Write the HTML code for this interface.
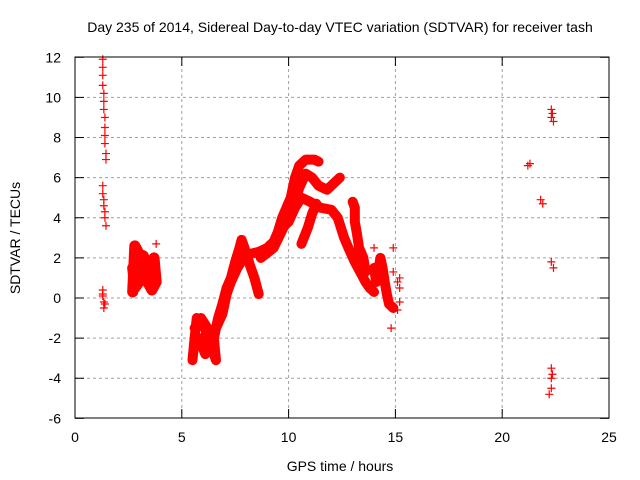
<!DOCTYPE html>
<html><head><meta charset="utf-8"><style>
body{margin:0;background:#fff}
svg{display:block;font-family:"Liberation Sans",sans-serif}
</style></head><body>
<svg id="chart" width="640" height="480" viewBox="0 0 640 480">
<text x="340" y="32" font-size="14" text-anchor="middle">Day 235 of 2014, Sidereal Day-to-day VTEC variation (SDTVAR) for receiver tash</text>
<text x="340" y="471" font-size="14" text-anchor="middle">GPS time / hours</text>
<text x="20" y="238" font-size="14" text-anchor="middle" transform="rotate(-90 20 238)">SDTVAR / TECUs</text>
<g id="grid"></g>
<g id="marks"></g>
<rect x="75" y="57" width="534" height="361" fill="none" stroke="#000" stroke-width="1"/>
<g id="axes"></g>
</svg>
<script>
const xTicks=[0,5,10,15,20,25];
const yTicks=[-6,-4,-2,0,2,4,6,8,10,12];
const trackAx=[5.5,5.6,5.7,6.0,6.2,6.4,6.6,6.5,6.7,6.9,7.1,7.3,7.5,7.7,7.8,8.0,8.2,8.4,8.6];
const trackAy=[-3.1,-2,-1,-1.3,-1.8,-2.5,-3.1,-2,-1,-0.3,0.5,1.0,1.8,2.5,2.9,2.3,1.6,1.0,0.2];
const trackBx=[5.6,5.9,6.2,6.0,5.8,6.1,6.4,6.6,6.9,7.1,7.3,7.6,7.9,8.2,8.6,9.0,9.3,9.5,9.7,9.9,10.1,10.3,10.5,10.8,11.2,11.4];
const trackBy=[-1.5,-1.0,-1.5,-2.3,-2.0,-2.8,-2.4,-1.5,-0.8,0.2,0.8,1.5,2.0,2.2,2.3,2.5,2.8,3.3,4.0,4.5,5.0,6.0,6.6,6.9,6.9,6.8];
const trackCx=[8.7,9.3,9.8,10.2,10.5,10.8,11.1,11.4,11.8,12.2,12.4];
const trackCy=[2.0,2.5,3.6,4.5,5.5,6.2,6.0,5.6,5.4,5.8,6.0];
const trackDx=[9.6,10.0,10.3,10.6,11.0,11.5,12.0,12.3,12.6,12.8,13.1,13.4,13.6,13.8,14.0];
const trackDy=[3.4,3.8,4.5,5.0,4.8,4.5,4.4,4.0,3.0,2.5,1.8,1.2,0.8,0.5,0.3];
const trackEx=[10.6,10.9,11.1,11.3];
const trackEy=[2.7,3.5,4.2,4.7];
const trackFx=[13.0,13.1,13.1,13.2,13.3,13.5,13.6];
const trackFy=[4.8,4.5,3.8,3.2,2.5,2.0,1.3];
const trackGx=[14.0,14.1,14.3,14.4,14.5,14.6,14.7,14.9];
const trackGy=[1.5,0.8,2.0,1.5,0.8,0.2,-0.3,-0.5];
const trackHx=[2.7,2.8,3.0,3.2,3.4,3.5,3.7,3.8,3.6,3.3,3.0,2.8,2.7,2.9,3.3,3.6,3.5,3.2];
const trackHy=[0.3,2.6,2.2,2.1,1.6,1.0,2.0,0.8,0.4,1.0,0.8,0.5,1.5,1.8,1.5,1.8,1.3,1.2];
const scatterX=[1.3,1.3,1.3,1.3,1.35,1.35,1.35,1.4,1.4,1.4,1.4,1.45,1.45,1.3,1.3,1.35,1.35,1.4,1.4,1.45,1.3,1.3,1.35,1.35,1.4,1.3,
 3.8,14.0,14.9,14.9,14.8,15.2,15.2,15.2,15.1,15.1,
 21.2,21.3,21.8,21.9,22.3,22.3,22.4,22.35,22.3,22.4,22.3,22.3,22.3,22.2,22.35];
const scatterY=[11.9,11.5,11.1,10.6,10.2,9.8,9.4,9.0,8.5,8.1,7.7,7.2,6.9,5.6,5.2,4.9,4.6,4.3,4.0,3.6,0.4,0.1,-0.2,-0.5,-0.3,0.2,
 2.7,2.5,2.5,1.3,-1.5,1.0,0.5,-0.2,-0.6,0.8,
 6.6,6.7,4.9,4.7,9.4,9.0,8.8,9.2,1.8,1.5,-3.5,-4.0,-4.5,-4.8,-3.8];

const X=h=>75+h*21.36, Y=v=>298-v*20.06;
const NS='http://www.w3.org/2000/svg';
const grid=document.getElementById('grid'),axes=document.getElementById('axes'),marks=document.getElementById('marks');
function mk(tag,attrs,parent){const e=document.createElementNS(NS,tag);for(const k in attrs)e.setAttribute(k,attrs[k]);parent.appendChild(e);return e;}
xTicks.forEach(t=>{
 const x=X(t);
 if(t>0&&t<25){const g=mk('line',{x1:x,y1:57,x2:x,y2:418,stroke:'#a0a0a0','stroke-dasharray':'3,3'},grid);
 
 }
 const a=mk('line',{x1:x,y1:418,x2:x,y2:409,stroke:'#000'},axes);
 
 
 const b=mk('line',{x1:x,y1:57,x2:x,y2:66,stroke:'#000'},axes);
 
 
 const l=mk('text',{x:x,y:442,'font-size':14,'text-anchor':'middle'},axes);l.textContent=t;
 
 
});
yTicks.forEach(t=>{
 const y=Y(t);
 if(t>-6&&t<12){const g=mk('line',{x1:75,y1:y,x2:609,y2:y,stroke:'#a0a0a0','stroke-dasharray':'3,3'},grid);
 
 }
 const a=mk('line',{x1:75,y1:y,x2:84,y2:y,stroke:'#000'},axes);
 
 
 const b=mk('line',{x1:600,y1:y,x2:609,y2:y,stroke:'#000'},axes);
 
 
 const l=mk('text',{x:61,y:y+5,'font-size':14,'text-anchor':'end'},axes);l.textContent=t;
 
 
});
function plus(h,v){
 const x=X(h),y=Y(v);
 const p=mk('path',{d:`M${x-4},${y}h8M${x},${y-4}v8`,stroke:'#f00','stroke-width':1.2,fill:'none'},marks);
 
 
}
const tracks=[[trackAx,trackAy],[trackBx,trackBy],[trackCx,trackCy],[trackDx,trackDy],[trackEx,trackEy],[trackFx,trackFy],[trackGx,trackGy],[trackHx,trackHy]];
tracks.forEach(([xs,ys],ti)=>{
 const pts=xs.map((h,i)=>X(h)+','+Y(ys[i])).join(' ');
 const pl=mk('polyline',{points:pts,fill:'none',stroke:'#f00','stroke-width':ti===7?11:10,'stroke-linejoin':'round','stroke-linecap':'round'},marks);
 
 
 xs.forEach((h,i)=>plus(h,ys[i]));
});
scatterX.forEach((h,i)=>plus(h,scatterY[i]));
</script>
</body></html>
